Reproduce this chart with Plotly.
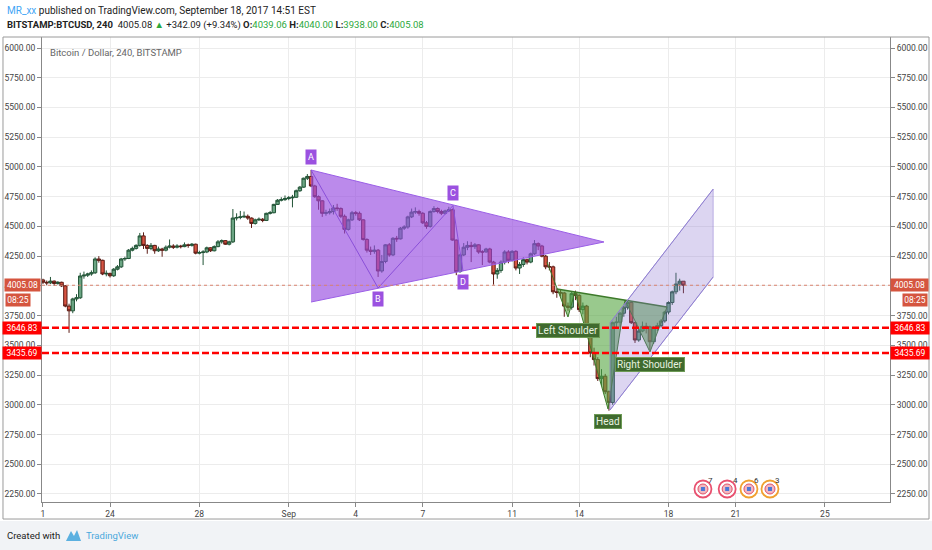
import pandas as pd
import plotly.graph_objects as go

FONT = "Roboto, Liberation Sans, sans-serif"

# BITSTAMP:BTCUSD 4h candles from 2017-08-21 00:00
first_open = 4050.0
close = [
    4030, 4025, 4040, 4020, 4030, 4000,   # Aug 21
    3830, 3790, 3890, 3900, 4083, 4090,   # Aug 22
    4100, 4110, 4226, 4215, 4100, 4105,   # Aug 23
    4085, 4140, 4160, 4226, 4230, 4300,   # Aug 24
    4315, 4340, 4420, 4340, 4315, 4340,   # Aug 25
    4295, 4310, 4300, 4325, 4335, 4325,   # Aug 26
    4335, 4330, 4345, 4340, 4350, 4275,   # Aug 27
    4280, 4285, 4320, 4295, 4330, 4370,   # Aug 28
    4380, 4350, 4370, 4570, 4575, 4580,   # Aug 29
    4585, 4570, 4525, 4555, 4560, 4550,   # Aug 30
    4610, 4615, 4685, 4720, 4725, 4735,   # Aug 31
    4740, 4745, 4800, 4830, 4905, 4920,   # Sep 1
    4840, 4750, 4715, 4610, 4615, 4625,   # Sep 2
    4655, 4650, 4585, 4475, 4555, 4615,   # Sep 3
    4610, 4555, 4390, 4300, 4290, 4300,   # Sep 4
    4125, 4205, 4345, 4260, 4400, 4395,   # Sep 5
    4485, 4495, 4580, 4620, 4625, 4610,   # Sep 6
    4530, 4500, 4625, 4650, 4625, 4610,   # Sep 7
    4630, 4640, 4385, 4120, 4260, 4325,   # Sep 8
    4340, 4330, 4345, 4285, 4285, 4310,   # Sep 9
    4200, 4100, 4130, 4200, 4285, 4215,   # Sep 10
    4290, 4150, 4180, 4220, 4200, 4270,   # Sep 11
    4355, 4335, 4250, 4160, 4160, 3950,   # Sep 12
    3945, 3940, 3830, 3820, 3935, 3920,   # Sep 13
    3800, 3830, 3605, 3435, 3380, 3220,   # Sep 14
    3240, 3110, 3020, 3690, 3695, 3770,   # Sep 15
    3820, 3860, 3690, 3545, 3620, 3660,   # Sep 16
    3655, 3530, 3650, 3665, 3705, 3780,   # Sep 17
    3860, 3950, 4015, 4039.06, 4005.08,   # Sep 18
]
high = [
    4060, 4045, 4075, 4045, 4040, 4035,
    4005, 3850, 3900, 3930, 4110, 4120,
    4110, 4130, 4240, 4250, 4220, 4130,
    4110, 4150, 4175, 4235, 4245, 4310,
    4330, 4350, 4445, 4450, 4350, 4360,
    4345, 4330, 4320, 4340, 4390, 4350,
    4350, 4345, 4365, 4355, 4360, 4355,
    4295, 4300, 4330, 4325, 4340, 4385,
    4390, 4385, 4380, 4646, 4610, 4630,
    4625, 4600, 4575, 4565, 4575, 4570,
    4615, 4630, 4690, 4730, 4745, 4760,
    4755, 4765, 4810, 4840, 4910, 4940,
    4975, 4850, 4760, 4720, 4640, 4650,
    4680, 4690, 4660, 4600, 4565, 4630,
    4630, 4625, 4560, 4400, 4330, 4340,
    4310, 4260, 4350, 4360, 4410, 4420,
    4495, 4510, 4590, 4650, 4660, 4640,
    4620, 4545, 4635, 4670, 4660, 4640,
    4640, 4665, 4650, 4390, 4270, 4360,
    4375, 4370, 4360, 4350, 4300, 4320,
    4320, 4210, 4150, 4215, 4300, 4300,
    4300, 4300, 4200, 4240, 4230, 4280,
    4385, 4365, 4345, 4260, 4200, 4170,
    3980, 3965, 3950, 3860, 3950, 3960,
    3930, 3860, 3840, 3620, 3480, 3400,
    3300, 3260, 3120, 3700, 3740, 3780,
    3830, 3880, 3870, 3700, 3640, 3700,
    3690, 3665, 3660, 3690, 3720, 3790,
    3870, 3960, 4110, 4060, 4040.00,
]
low = [
    4015, 4005, 4015, 4000, 4010, 3990,
    3820, 3605, 3770, 3870, 3890, 4060,
    4075, 4085, 4100, 4195, 4090, 4080,
    4070, 4075, 4130, 4150, 4210, 4225,
    4290, 4305, 4330, 4310, 4270, 4300,
    4270, 4285, 4245, 4290, 4315, 4310,
    4315, 4315, 4325, 4320, 4330, 4265,
    4265, 4175, 4275, 4285, 4290, 4325,
    4355, 4345, 4340, 4360, 4550, 4560,
    4570, 4555, 4487, 4515, 4545, 4535,
    4545, 4600, 4610, 4680, 4710, 4715,
    4720, 4660, 4740, 4790, 4825, 4890,
    4830, 4740, 4640, 4580, 4590, 4600,
    4600, 4630, 4570, 4440, 4465, 4545,
    4590, 4545, 4380, 4280, 4260, 4270,
    4075, 4110, 4190, 4245, 4250, 4370,
    4390, 4470, 4480, 4570, 4605, 4590,
    4520, 4480, 4490, 4615, 4610, 4595,
    4600, 4620, 4380, 4090, 4110, 4250,
    4300, 4200, 4310, 4270, 4175, 4280,
    4190, 4010, 4060, 4110, 4180, 4190,
    4205, 4130, 4100, 4160, 4180, 4190,
    4260, 4300, 4240, 4140, 4130, 3930,
    3900, 3910, 3740, 3790, 3800, 3880,
    3780, 3760, 3590, 3400, 3330, 3200,
    3160, 3090, 2950, 3000, 3640, 3650,
    3740, 3800, 3680, 3520, 3530, 3610,
    3600, 3460, 3510, 3620, 3650, 3690,
    3760, 3840, 3930, 3960, 3938.00,
]
open_ = [first_open] + close[:-1]
times = pd.date_range("2017-08-21 00:00", periods=len(close), freq="4h")

# triangle pattern A-B-C-D
abcd_labels = ["A", "B", "C", "D"]
abcd_time = ["2017-09-02 00:00", "2017-09-05 00:00", "2017-09-08 08:24", "2017-09-08 19:12"]
abcd_price = [4974, 3982, 4675, 4125]
tri_time = ["2017-09-02 00:00", "2017-09-15 02:40", "2017-09-02 00:00"]
tri_price = [4974, 4369, 3864]

# inverse head & shoulders
hs_time = ["2017-09-12 13:25", "2017-09-13 12:00", "2017-09-13 19:25", "2017-09-15 07:00",
           "2017-09-16 01:10", "2017-09-17 04:05", "2017-09-17 22:20"]
hs_price = [4201, 3738, 3948, 2965, 3881, 3444, 3822]
neck_start = ("2017-09-13 00:15", 3974)
hs_names = ["Left Shoulder", "Head", "Right Shoulder"]

# rising channel
chan_time = ["2017-09-15 09:05", "2017-09-20 00:00", "2017-09-20 00:00", "2017-09-15 09:05"]
chan_price = [2956, 4075, 4814, 3688]

# levels
last_price = 4005.08
support_levels = [3646.83, 3435.69]
countdown = "08:25"

# economic events
event_time = ["2017-09-19 13:00", "2017-09-20 15:00", "2017-09-21 14:25", "2017-09-22 13:00"]
event_count = ["7", "4", "6", "3"]
event_color = ["#e8506f", "#e8506f", "#f0a030", "#f0a030"]
event_level = 2292

x_tick_dates = ["2017-08-21", "2017-08-24", "2017-08-28", "2017-09-01", "2017-09-04", "2017-09-07",
                "2017-09-11", "2017-09-14", "2017-09-18", "2017-09-21", "2017-09-25"]
x_tick_text = ["1", "24", "28", "Sep", "4", "7", "11", "14", "18", "21", "25"]
y_ticks = list(range(2250, 6001, 250))
y_range = [2182.6, 6092.5]
x_range = ["2017-08-20 22:56", "2017-09-27 21:56"]

PURPLE = "#9b51e0"
GREEN_LBL = "#3f6a2e"
TAG = 8.5

fig = go.Figure()

fig.add_trace(go.Candlestick(
    x=times, open=open_, high=high, low=low, close=close,
    increasing=dict(fillcolor="#6ba583", line=dict(color="#225437", width=1)),
    decreasing=dict(fillcolor="#d75442", line=dict(color="#5b1a13", width=1)),
    whiskerwidth=0, hoverinfo="skip",
))

# triangle fill + zigzag
fig.add_trace(go.Scatter(
    x=tri_time, y=tri_price, fill="toself", mode="lines",
    fillcolor="rgba(150,75,225,0.65)", line=dict(color="#9a5ee6", width=1), hoverinfo="skip",
))
fig.add_trace(go.Scatter(
    x=abcd_time, y=abcd_price, mode="lines",
    line=dict(color="#8a4fd8", width=1), hoverinfo="skip",
))

# head & shoulders fills
neck_pts = [(neck_start[0], neck_start[1]), (hs_time[2], hs_price[2]),
            (hs_time[4], hs_price[4]), (hs_time[6], hs_price[6])]
bottoms = [(hs_time[1], hs_price[1]), (hs_time[3], hs_price[3]), (hs_time[5], hs_price[5])]
for k in range(3):
    xs = [neck_pts[k][0], bottoms[k][0], neck_pts[k + 1][0], neck_pts[k][0]]
    ys = [neck_pts[k][1], bottoms[k][1], neck_pts[k + 1][1], neck_pts[k][1]]
    fig.add_trace(go.Scatter(
        x=xs, y=ys, fill="toself", mode="lines",
        fillcolor="rgba(85,165,65,0.6)", line=dict(width=0), hoverinfo="skip",
    ))
fig.add_trace(go.Scatter(
    x=hs_time, y=hs_price, mode="lines",
    line=dict(color="#3d7a2a", width=1), hoverinfo="skip",
))
fig.add_trace(go.Scatter(
    x=[neck_start[0], hs_time[6]], y=[neck_start[1], hs_price[6]], mode="lines",
    line=dict(color="#3d7a2a", width=1.5), hoverinfo="skip",
))

# channel
fig.add_trace(go.Scatter(
    x=chan_time + [chan_time[0]], y=chan_price + [chan_price[0]], fill="toself", mode="lines",
    fillcolor="rgba(140,115,210,0.3)", line=dict(color="rgba(140,120,210,0.5)", width=1),
    hoverinfo="skip",
))
fig.add_trace(go.Scatter(
    x=chan_time[:2], y=chan_price[:2], mode="lines",
    line=dict(color="#8f7fd0", width=1), hoverinfo="skip",
))
fig.add_trace(go.Scatter(
    x=chan_time[2:], y=chan_price[2:], mode="lines",
    line=dict(color="#8f7fd0", width=1), hoverinfo="skip",
))

# events (on right axis)
fig.add_trace(go.Scatter(
    x=event_time, y=[event_level] * len(event_time), yaxis="y2", mode="markers",
    marker=dict(symbol="circle", size=17, color="white", line=dict(color=event_color, width=1.8)),
    hoverinfo="skip",
))
fig.add_trace(go.Scatter(
    x=event_time, y=[event_level] * len(event_time), yaxis="y2", mode="markers",
    marker=dict(symbol="circle", size=10, color="#f2b8c0", line=dict(color="#e05068", width=1)),
    hoverinfo="skip",
))
fig.add_trace(go.Scatter(
    x=event_time, y=[event_level] * len(event_time), yaxis="y2", mode="markers",
    marker=dict(symbol="square", size=4, color="#4a78d8"),
    hoverinfo="skip",
))

shapes = [
    # footer band
    dict(type="rect", xref="paper", yref="paper", x0=-0.06, x1=1.06, y0=-0.041, y1=-0.11,
         fillcolor="#f1f3f6", line=dict(width=0), layer="below"),
    # outer frame
    dict(type="rect", xref="paper", yref="paper", x0=-0.046, x1=1.046, y0=-0.0366, y1=1.0,
         line=dict(color="#9a9a9a", width=1)),
    dict(type="line", xref="paper", yref="y", x0=0, x1=1, y0=last_price, y1=last_price,
         line=dict(color="#d9826e", width=1, dash="dot")),
    # TradingView logo
    dict(type="path", xref="paper", yref="paper",
         path="M 0.0283 -0.0839 L 0.0342 -0.0624 L 0.0377 -0.0731 L 0.0413 -0.0602 L 0.0460 -0.0839 Z",
         fillcolor="#5bb0e0", line=dict(width=0)),
]
for lvl in support_levels:
    shapes.append(dict(type="line", xref="paper", yref="y", x0=0, x1=1, y0=lvl, y1=lvl,
                       line=dict(color="#ff0000", width=2.5, dash="7px,3px")))

ann = []
# header
ann.append(dict(xref="paper", yref="paper", x=-0.0436, y=1.058, xanchor="left", yanchor="middle",
                showarrow=False, font=dict(size=10, color="#222"),
                text="<span style='color:#42a5f5'>MR_xx</span> published on TradingView.com, "
                     "September 18, 2017 14:51 EST"))
ann.append(dict(xref="paper", yref="paper", x=-0.0436, y=1.0258, xanchor="left", yanchor="middle",
                showarrow=False, font=dict(size=9.5, color="#222"),
                text="<b>BITSTAMP:BTCUSD, 240</b>  4005.08 <span style='color:#2ca83c'>▲</span>"
                     " +342.09 (+9.34%) <b>O:</b><span style='color:#2ca83c'>4039.06</span>"
                     " <b>H:</b><span style='color:#2ca83c'>4040.00</span>"
                     " <b>L:</b><span style='color:#2ca83c'>3938.00</span>"
                     " <b>C:</b><span style='color:#2ca83c'>4005.08</span>"))
ann.append(dict(xref="paper", yref="paper", x=0.007, y=0.9656, xanchor="left", yanchor="middle",
                showarrow=False, font=dict(size=9.5, color="#666"),
                text="Bitcoin / Dollar, 240, BITSTAMP"))
# footer
ann.append(dict(xref="paper", yref="paper", x=-0.0436, y=-0.071, xanchor="left", yanchor="middle",
                showarrow=False, font=dict(size=9.5, color="#222"), text="Created with"))
ann.append(dict(xref="paper", yref="paper", x=0.0495, y=-0.071, xanchor="left", yanchor="middle",
                showarrow=False, font=dict(size=9.5, color="#4aa8dc"), text="TradingView"))

# ABCD labels
for lbl, t, p in zip(abcd_labels, abcd_time, abcd_price):
    up = lbl in ("A", "C")
    ann.append(dict(x=t, y=p, xref="x", yref="y", text=lbl, showarrow=False,
                    yshift=13 if up else -11, bgcolor=PURPLE, borderpad=2,
                    font=dict(size=9, color="white")))
# H&S labels
for name, t, p in zip(hs_names, hs_time[1::2], hs_price[1::2]):
    ann.append(dict(x=t, y=p, xref="x", yref="y", text=name, showarrow=False, yshift=-13,
                    bgcolor=GREEN_LBL, bordercolor="#6d9a55", borderwidth=1, borderpad=1,
                    font=dict(size=10, color="#e8f2e0")))
# event counts
for t, n in zip(event_time, event_count):
    ann.append(dict(x=t, y=event_level, xref="x", yref="y2", text=n, showarrow=False,
                    xshift=8, yshift=8, font=dict(size=8, color="#333")))

# axis price tags
tag_font = dict(size=TAG, color="white")
ann.append(dict(xref="paper", yref="y", x=-0.0012, y=last_price, xanchor="right", yanchor="middle",
                text=f"{last_price:.2f}", showarrow=False, bgcolor="#d5553f", width=33, font=tag_font))
ann.append(dict(xref="paper", yref="y", x=1.0, y=last_price, xanchor="left", yanchor="middle",
                text=f"{last_price:.2f}", showarrow=False, bgcolor="#d5553f", width=35, font=tag_font))
ann.append(dict(xref="paper", yref="y", x=-0.0436, y=last_price, xanchor="left", yanchor="middle",
                yshift=-15, text=countdown, showarrow=False, bgcolor="#d5553f", width=22, font=tag_font))
ann.append(dict(xref="paper", yref="y", x=1.0448, y=last_price, xanchor="right", yanchor="middle",
                yshift=-15, text=countdown, showarrow=False, bgcolor="#d5553f", width=22, font=tag_font))
for lvl in support_levels:
    ann.append(dict(xref="paper", yref="y", x=0, y=lvl, xanchor="right", yanchor="middle",
                    text=f"{lvl:.2f}", showarrow=False, bgcolor="#ff0000", width=36, font=tag_font))
    ann.append(dict(xref="paper", yref="y", x=1.0, y=lvl, xanchor="left", yanchor="middle",
                    text=f"{lvl:.2f}", showarrow=False, bgcolor="#ff0000", width=36, font=tag_font))

axis_common = dict(
    range=y_range, tickvals=y_ticks, ticktext=[f"{v:.2f}" for v in y_ticks],
    ticks="outside", ticklen=4, tickcolor="#888", tickfont=dict(size=8.5, color="#444"),
    showline=True, linecolor="#888", linewidth=1, zeroline=False, fixedrange=True,
    automargin=False,
)

fig.update_layout(
    width=932, height=550,
    margin=dict(l=42, r=42, t=37, b=48),
    paper_bgcolor="white", plot_bgcolor="white",
    showlegend=False,
    boxgap=0.1, boxgroupgap=0,
    font=dict(family=FONT),
    xaxis=dict(
        type="date", range=x_range, tickvals=x_tick_dates, ticktext=x_tick_text,
        showgrid=True, gridcolor="#ececec", showline=True, linecolor="#888",
        ticks="outside", ticklen=4, tickcolor="#888", tickfont=dict(size=8.5, color="#444"),
        zeroline=False, rangeslider=dict(visible=False), fixedrange=True, automargin=False,
    ),
    yaxis=dict(side="left", showgrid=True, gridcolor="#ececec", **axis_common),
    yaxis2=dict(side="right", overlaying="y", showgrid=False, **axis_common),
    shapes=shapes,
    annotations=ann,
)

# page has a default body margin; drop it so the figure sits at the window's corner
fig.write_html("out.html", config={"displayModeBar": False},
               post_script="document.body.style.margin='0px';")
